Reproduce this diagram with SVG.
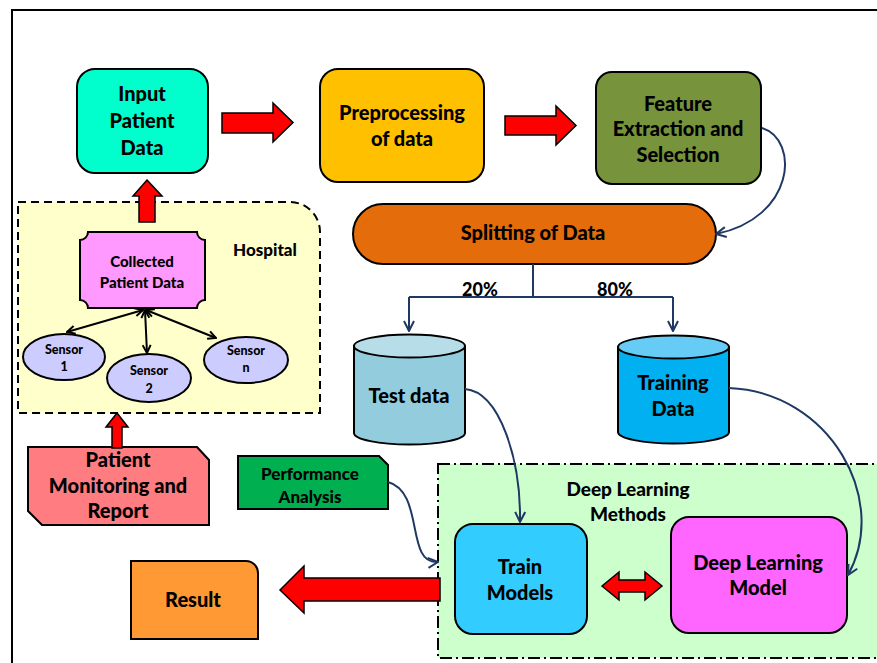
<svg xmlns="http://www.w3.org/2000/svg" width="877" height="663" viewBox="0 0 877 663">
<style>
text{font-family:Lato,"Liberation Sans",sans-serif;font-weight:900;fill:#000;text-anchor:middle}
.n{stroke:#000;stroke-width:2}
.t19{font-size:20px}
.nav{fill:none;stroke:#1F3864;stroke-width:2}
.red{fill:#FF0000;stroke:#000;stroke-width:1.5}
.blk{fill:none;stroke:#000;stroke-width:2}
</style>
<defs>
<marker id="va" viewBox="0 0 12 12" refX="11" refY="6" markerWidth="12" markerHeight="12" markerUnits="userSpaceOnUse" orient="auto">
<path d="M1,1 L11,6 L1,11" fill="none" stroke="#1F3864" stroke-width="2"/>
</marker>
<marker id="ka" viewBox="0 0 10 10" refX="9" refY="5" markerWidth="10" markerHeight="10" markerUnits="userSpaceOnUse" orient="auto-start-reverse">
<path d="M1,1 L9,5 L1,9" fill="none" stroke="#000" stroke-width="2"/>
</marker>
</defs>
<rect width="877" height="663" fill="#fff"/>
<path d="M12,663 V10 H877" fill="none" stroke="#000" stroke-width="2"/>

<g id="hospital">
<path d="M18,202 H290 A30,30 0 0 1 320,232 V413 H18 Z" fill="#FFFFCC" stroke="#000" stroke-width="2" stroke-dasharray="8,5"/>
<text x="265" y="256" style="font-size:17px">Hospital</text>
</g>

<g id="dl-methods">
<rect x="438" y="464" width="460" height="194" fill="#CCFFCC" stroke="#000" stroke-width="2" stroke-dasharray="12,4,2,4"/>
<text x="628" y="496" style="font-size:19px">Deep Learning</text>
<text x="628" y="521" style="font-size:19px">Methods</text>
</g>

<g id="input">
<rect class="n" x="77" y="69" width="131" height="104" rx="18" fill="#00FFCC"/>
<text class="t19" x="142" y="101">Input</text>
<text class="t19" x="142" y="128">Patient</text>
<text class="t19" x="142" y="155">Data</text>
</g>

<g id="preprocessing">
<rect class="n" x="320" y="69" width="164" height="113" rx="18" fill="#FFC000"/>
<text class="t19" x="402" y="120">Preprocessing</text>
<text class="t19" x="402" y="146">of data</text>
</g>

<g id="feature">
<rect class="n" x="596" y="72" width="165" height="112" rx="16" fill="#77933C"/>
<text class="t19" x="678" y="111">Feature</text>
<text class="t19" x="678" y="136">Extraction and</text>
<text class="t19" x="678" y="162">Selection</text>
</g>

<g id="splitting">
<rect class="n" x="353" y="204" width="363" height="60" rx="30" fill="#E46C0A"/>
<text class="t19" x="533" y="240">Splitting of Data</text>
</g>

<g id="test-data">
<path class="n" d="M354,346 V433 A55.5,11.5 0 0 0 465,433 V346 Z" fill="#93CDDD"/>
<ellipse class="n" cx="409.5" cy="346" rx="55.5" ry="11.5" fill="#B7DEE8"/>
<text class="t19" x="409" y="403">Test data</text>
</g>

<g id="training-data">
<path class="n" d="M618,347 V432 A55.5,11.5 0 0 0 729,432 V347 Z" fill="#00B0F0"/>
<ellipse class="n" cx="673.5" cy="347" rx="55.5" ry="11.5" fill="#66CCF5"/>
<text class="t19" x="673" y="390">Training</text>
<text class="t19" x="673" y="416">Data</text>
</g>

<g id="collected">
<path class="n" d="M88,232 H197 A8,8 0 0 0 205,240 V300 A8,8 0 0 0 197,308 H88 A8,8 0 0 0 80,300 V240 A8,8 0 0 0 88,232 Z" fill="#FF99FF"/>
<text x="142" y="267" style="font-size:15px">Collected</text>
<text x="142" y="288" style="font-size:15px">Patient Data</text>
</g>

<g id="sensor1">
<ellipse class="n" cx="64" cy="357" rx="41" ry="23" fill="#CCCCFF"/>
<text x="64" y="354" style="font-size:12.5px">Sensor</text>
<text x="64" y="371" style="font-size:12.5px">1</text>
</g>
<g id="sensor2">
<ellipse class="n" cx="149" cy="378" rx="42" ry="24" fill="#CCCCFF"/>
<text x="149" y="375" style="font-size:12.5px">Sensor</text>
<text x="149" y="393" style="font-size:12.5px">2</text>
</g>
<g id="sensorn">
<ellipse class="n" cx="246" cy="360" rx="42" ry="23" fill="#CCCCFF"/>
<text x="246" y="355" style="font-size:12.5px">Sensor</text>
<text x="246" y="372" style="font-size:12.5px">n</text>
</g>

<g id="monitoring">
<polygon class="n" points="28,447 197,447 209,460 209,525 42,525 28,511" fill="#FF7C80"/>
<text class="t19" x="118" y="467">Patient</text>
<text class="t19" x="118" y="493">Monitoring and</text>
<text class="t19" x="118" y="518">Report</text>
</g>

<g id="performance">
<polygon class="n" points="238,456 379,456 388,465 388,509 238,509" fill="#00B050"/>
<text x="310" y="480" style="font-size:17px">Performance</text>
<text x="310" y="503" style="font-size:17px">Analysis</text>
</g>

<g id="result">
<path class="n" d="M131,561 H246 A12,12 0 0 1 258,573 V639 H131 Z" fill="#FF9933"/>
<text class="t19" x="193" y="607">Result</text>
</g>

<g id="train-models">
<rect class="n" x="455" y="524" width="132" height="110" rx="18" fill="#33CCFF"/>
<text class="t19" x="520" y="574">Train</text>
<text class="t19" x="520" y="600">Models</text>
</g>

<g id="dl-model">
<rect class="n" x="671" y="517" width="176" height="116" rx="18" fill="#FF66FF"/>
<text class="t19" x="758" y="570">Deep Learning</text>
<text class="t19" x="758" y="595">Model</text>
</g>

<g id="connectors">
<polygon class="red" points="222,113 273,113 273,103 293,122.5 273,142 273,133 222,133"/>
<polygon class="red" points="505,116 556,116 556,106 576,125.5 556,145 556,135 505,135"/>
<polygon class="red" points="147,180 162,196 155,196 155,222 139,222 139,196 133,196"/>
<polygon class="red" points="117,413 128,427 122,427 122,448 112,448 112,427 106,427"/>
<polygon class="red" points="280,590 304,566 304,578 440,578 440,601 304,601 304,613"/>
<polygon class="red" points="602,586 619,572 619,580 645,580 645,572 662,586 645,600 645,592 619,592 619,600"/>
<path class="nav" d="M762,128 C800,140 795,218 716,234" marker-end="url(#va)"/>
<path class="nav" d="M533,264 V297 M409,297 H673"/>
<path class="nav" d="M409,297 V331" marker-end="url(#va)"/>
<path class="nav" d="M673,297 V331" marker-end="url(#va)"/>
<path class="nav" d="M465,389 C500,392 521,460 520,522" marker-end="url(#va)"/>
<path class="nav" d="M729,388 C830,392 890,500 848,575" marker-end="url(#va)"/>
<path class="nav" d="M388,482 C425,492 405,565 438,562" marker-end="url(#va)"/>
<path class="blk" d="M143,310 L67,332" marker-start="url(#ka)" marker-end="url(#ka)"/>
<path class="blk" d="M145,310 L147,353" marker-start="url(#ka)" marker-end="url(#ka)"/>
<path class="blk" d="M146,310 L216,338" marker-start="url(#ka)" marker-end="url(#ka)"/>
<text x="480" y="296" style="font-size:18px">20%</text>
<text x="615" y="296" style="font-size:18px">80%</text>
</g>
</svg>
